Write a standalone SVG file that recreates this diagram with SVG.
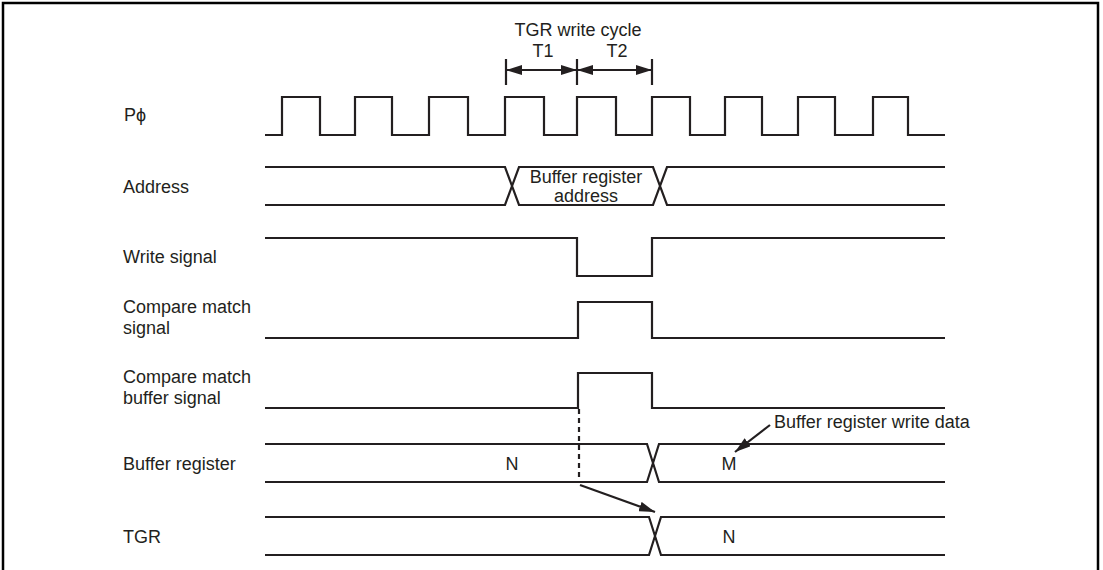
<svg xmlns="http://www.w3.org/2000/svg" width="1103" height="570" viewBox="0 0 1103 570">
  <style>
    .sig { fill: none; stroke: #231f20; stroke-width: 2.2; stroke-linejoin: miter; }
    .lbl { font-family: "Liberation Sans", Arial, sans-serif; font-size: 18px; fill: #231f20; }
    .mid { text-anchor: middle; }
    .con { fill: none; stroke: #231f20; stroke-width: 2.2; }
    .dash { fill: none; stroke: #231f20; stroke-width: 2.2; stroke-dasharray: 5 4; }
  </style>
  <defs>
    <marker id="ah" viewBox="0 0 16 10" refX="16" refY="5" markerWidth="16" markerHeight="10" markerUnits="userSpaceOnUse" orient="auto">
      <path d="M0,0 L16,5 L0,10 Z" fill="#231f20"/>
    </marker>
    <marker id="ahs" viewBox="0 0 16 10" refX="16" refY="5" markerWidth="16" markerHeight="10" markerUnits="userSpaceOnUse" orient="auto-start-reverse">
      <path d="M0,0 L16,5 L0,10 Z" fill="#231f20"/>
    </marker>
  </defs>
  <rect width="1103" height="570" fill="#ffffff"/>
  <path d="M3,570 V3 H1098 V570" fill="none" stroke="#000" stroke-width="2.5"/>

  <g id="cycle">
    <text class="lbl mid" x="578" y="36">TGR write cycle</text>
    <text class="lbl mid" x="543" y="57">T1</text>
    <text class="lbl mid" x="617" y="57">T2</text>
    <path class="con" d="M506,59 V85 M577,59 V85 M652,59 V85"/>
  </g>

  <g id="clock">
    <text class="lbl" x="124" y="121">P&#x3D5;</text>
    <path class="sig" d="M265,135 H282 V97 H320 V135 H355 V97 H392 V135 H429 V97 H468 V135 H505 V97 H544 V135 H577 V97 H616 V135 H652 V97 H690 V135 H725 V97 H762 V135 H798 V97 H835 V135 H873 V97 H908 V135 H945"/>
  </g>

  <g id="address">
    <text class="lbl" x="123" y="193">Address</text>
    <path class="sig" d="M265,167 H505 L519,205 H653 L667,167 H945 M265,205 H505 L519,167 H653 L667,205 H945"/>
    <text class="lbl mid" x="586" y="183">Buffer register</text>
    <text class="lbl mid" x="586" y="202">address</text>
  </g>

  <g id="write">
    <text class="lbl" x="123" y="263">Write signal</text>
    <path class="sig" d="M265,238 H577 V276 H652 V238 H945"/>
  </g>

  <g id="cmatch">
    <text class="lbl" x="123" y="313">Compare match</text>
    <text class="lbl" x="123" y="334">signal</text>
    <path class="sig" d="M265,338 H578 V302 H652 V338 H945"/>
  </g>

  <g id="cmbuf">
    <text class="lbl" x="123" y="383">Compare match</text>
    <text class="lbl" x="123" y="404">buffer signal</text>
    <path class="sig" d="M265,408 H578 V373 H652 V408 H945"/>
  </g>

  <g id="bufreg">
    <text class="lbl" x="123" y="470">Buffer register</text>
    <path class="sig" d="M265,444 H647 L659,482 H945 M265,482 H647 L659,444 H945"/>
    <text class="lbl mid" x="512" y="470">N</text>
    <text class="lbl mid" x="729" y="470">M</text>
    <text class="lbl" x="774" y="428">Buffer register write data</text>
  </g>

  <g id="tgr">
    <text class="lbl" x="123" y="543">TGR</text>
    <path class="sig" d="M265,517 H649 L661,555 H945 M265,555 H649 L661,517 H945"/>
    <text class="lbl mid" x="729" y="543">N</text>
  </g>

  <g id="connectors">
    <line class="con" x1="506" y1="70" x2="577" y2="70" marker-start="url(#ahs)" marker-end="url(#ah)"/>
    <line class="con" x1="577" y1="70" x2="652" y2="70" marker-start="url(#ahs)" marker-end="url(#ah)"/>
    <line class="dash" x1="579" y1="409" x2="579" y2="477"/>
    <line class="con" x1="580" y1="485" x2="655" y2="512" marker-end="url(#ah)"/>
    <line class="con" x1="770" y1="425" x2="735" y2="452" marker-end="url(#ah)"/>
  </g>
</svg>
